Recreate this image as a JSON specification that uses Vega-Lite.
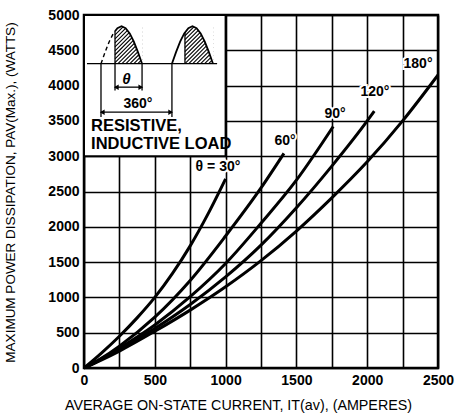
{
  "$schema": "https://vega.github.io/schema/vega-lite/v6.json",
  "width": 354,
  "height": 353,
  "autosize": {"type": "none"},
  "padding": {"left": 84, "top": 15, "right": 19, "bottom": 49},
  "background": "white",
  "config": {"font": "Liberation Sans", "view": {"stroke": "black", "strokeWidth": 2.5}},
  "datasets": {
    "curves": [
      {"angle": "30", "x": 0, "y": 0}, {"angle": "30", "x": 125, "y": 215}, {"angle": "30", "x": 250, "y": 450}, {"angle": "30", "x": 375, "y": 710}, {"angle": "30", "x": 500, "y": 1000}, {"angle": "30", "x": 625, "y": 1340}, {"angle": "30", "x": 750, "y": 1730}, {"angle": "30", "x": 875, "y": 2180}, {"angle": "30", "x": 1000, "y": 2680},
      {"angle": "60", "x": 0, "y": 0}, {"angle": "60", "x": 125, "y": 140}, {"angle": "60", "x": 250, "y": 310}, {"angle": "60", "x": 500, "y": 720}, {"angle": "60", "x": 750, "y": 1240}, {"angle": "60", "x": 1000, "y": 1870}, {"angle": "60", "x": 1250, "y": 2550}, {"angle": "60", "x": 1412, "y": 3040},
      {"angle": "90", "x": 0, "y": 0}, {"angle": "90", "x": 125, "y": 130}, {"angle": "90", "x": 250, "y": 280}, {"angle": "90", "x": 500, "y": 610}, {"angle": "90", "x": 750, "y": 1010}, {"angle": "90", "x": 1000, "y": 1480}, {"angle": "90", "x": 1250, "y": 2050}, {"angle": "90", "x": 1500, "y": 2660}, {"angle": "90", "x": 1760, "y": 3420},
      {"angle": "120", "x": 0, "y": 0}, {"angle": "120", "x": 125, "y": 125}, {"angle": "120", "x": 250, "y": 260}, {"angle": "120", "x": 500, "y": 560}, {"angle": "120", "x": 750, "y": 900}, {"angle": "120", "x": 1000, "y": 1290}, {"angle": "120", "x": 1250, "y": 1740}, {"angle": "120", "x": 1500, "y": 2270}, {"angle": "120", "x": 1750, "y": 2860}, {"angle": "120", "x": 2000, "y": 3500}, {"angle": "120", "x": 2050, "y": 3640},
      {"angle": "180", "x": 0, "y": 0}, {"angle": "180", "x": 125, "y": 115}, {"angle": "180", "x": 250, "y": 240}, {"angle": "180", "x": 500, "y": 520}, {"angle": "180", "x": 750, "y": 820}, {"angle": "180", "x": 1000, "y": 1150}, {"angle": "180", "x": 1250, "y": 1520}, {"angle": "180", "x": 1500, "y": 1940}, {"angle": "180", "x": 1750, "y": 2410}, {"angle": "180", "x": 2000, "y": 2920}, {"angle": "180", "x": 2250, "y": 3500}, {"angle": "180", "x": 2500, "y": 4150}
    ],
    "curveLabels": [
      {"label": "θ = 30°", "x": 946, "y": 2845},
      {"label": "60°", "x": 1420, "y": 3220},
      {"label": "90°", "x": 1773, "y": 3600},
      {"label": "120°", "x": 2055, "y": 3910},
      {"label": "180°", "x": 2359, "y": 4300}
    ],
    "hatch": [
      {"x": 219, "y": 4718, "x2": 290, "y2": 4860},
      {"x": 219, "y": 4662, "x2": 318, "y2": 4860},
      {"x": 219, "y": 4605, "x2": 346, "y2": 4860},
      {"x": 219, "y": 4549, "x2": 374, "y2": 4860},
      {"x": 219, "y": 4493, "x2": 402, "y2": 4860},
      {"x": 219, "y": 4437, "x2": 410, "y2": 4821},
      {"x": 219, "y": 4380, "x2": 410, "y2": 4764},
      {"x": 219, "y": 4324, "x2": 410, "y2": 4708},
      {"x": 240, "y": 4310, "x2": 410, "y2": 4652},
      {"x": 268, "y": 4310, "x2": 410, "y2": 4595},
      {"x": 296, "y": 4310, "x2": 410, "y2": 4539},
      {"x": 324, "y": 4310, "x2": 410, "y2": 4483},
      {"x": 352, "y": 4310, "x2": 410, "y2": 4427},
      {"x": 380, "y": 4310, "x2": 410, "y2": 4370},
      {"x": 713, "y": 4706, "x2": 790, "y2": 4860},
      {"x": 713, "y": 4650, "x2": 818, "y2": 4860},
      {"x": 713, "y": 4593, "x2": 846, "y2": 4860},
      {"x": 713, "y": 4537, "x2": 874, "y2": 4860},
      {"x": 713, "y": 4481, "x2": 902, "y2": 4860},
      {"x": 713, "y": 4425, "x2": 911, "y2": 4823},
      {"x": 713, "y": 4368, "x2": 911, "y2": 4766},
      {"x": 713, "y": 4312, "x2": 911, "y2": 4710},
      {"x": 740, "y": 4310, "x2": 911, "y2": 4654},
      {"x": 768, "y": 4310, "x2": 911, "y2": 4597},
      {"x": 796, "y": 4310, "x2": 911, "y2": 4541},
      {"x": 824, "y": 4310, "x2": 911, "y2": 4485},
      {"x": 852, "y": 4310, "x2": 911, "y2": 4429},
      {"x": 880, "y": 4310, "x2": 911, "y2": 4372}
    ],
    "cover": [
      {"hump": "a", "x": 219, "y": 4770, "y2": 4900}, {"hump": "a", "x": 236, "y": 4814, "y2": 4900}, {"hump": "a", "x": 265, "y": 4840, "y2": 4900}, {"hump": "a", "x": 294, "y": 4814, "y2": 4900}, {"hump": "a", "x": 323, "y": 4739, "y2": 4900}, {"hump": "a", "x": 352, "y": 4622, "y2": 4900}, {"hump": "a", "x": 381, "y": 4474, "y2": 4900}, {"hump": "a", "x": 410, "y": 4310, "y2": 4900},
      {"hump": "b", "x": 713, "y": 4752, "y2": 4900}, {"hump": "b", "x": 737, "y": 4814, "y2": 4900}, {"hump": "b", "x": 766, "y": 4840, "y2": 4900}, {"hump": "b", "x": 795, "y": 4814, "y2": 4900}, {"hump": "b", "x": 824, "y": 4739, "y2": 4900}, {"hump": "b", "x": 853, "y": 4622, "y2": 4900}, {"hump": "b", "x": 882, "y": 4474, "y2": 4900}, {"hump": "b", "x": 911, "y": 4310, "y2": 4900}
    ],
    "humpSolid": [
      {"seg": "a", "x": 219, "y": 4770}, {"seg": "a", "x": 236, "y": 4814}, {"seg": "a", "x": 265, "y": 4840}, {"seg": "a", "x": 294, "y": 4814}, {"seg": "a", "x": 323, "y": 4739}, {"seg": "a", "x": 352, "y": 4622}, {"seg": "a", "x": 381, "y": 4474}, {"seg": "a", "x": 410, "y": 4310},
      {"seg": "b", "x": 621, "y": 4310}, {"seg": "b", "x": 650, "y": 4474}, {"seg": "b", "x": 679, "y": 4622}, {"seg": "b", "x": 708, "y": 4739}, {"seg": "b", "x": 737, "y": 4814}, {"seg": "b", "x": 766, "y": 4840}, {"seg": "b", "x": 795, "y": 4814}, {"seg": "b", "x": 824, "y": 4739}, {"seg": "b", "x": 853, "y": 4622}, {"seg": "b", "x": 882, "y": 4474}, {"seg": "b", "x": 911, "y": 4310}
    ],
    "humpDashed": [
      {"x": 120, "y": 4310}, {"x": 149, "y": 4474}, {"x": 178, "y": 4622}, {"x": 207, "y": 4739}, {"x": 219, "y": 4770}
    ],
    "rules": [
      {"x": 21, "y": 4310, "x2": 940, "y2": 4310},
      {"x": 120, "y": 4310, "x2": 120, "y2": 3556},
      {"x": 219, "y": 4770, "x2": 219, "y2": 3930},
      {"x": 410, "y": 4310, "x2": 410, "y2": 3930},
      {"x": 621, "y": 4310, "x2": 621, "y2": 3556},
      {"x": 713, "y": 4752, "x2": 713, "y2": 4310},
      {"x": 219, "y": 3978, "x2": 410, "y2": 3978},
      {"x": 120, "y": 3623, "x2": 621, "y2": 3623}
    ],
    "arrows": [
      {"x": 228, "y": 3978, "shape": "triangle-left"},
      {"x": 401, "y": 3978, "shape": "triangle-right"},
      {"x": 129, "y": 3623, "shape": "triangle-left"},
      {"x": 612, "y": 3623, "shape": "triangle-right"}
    ],
    "insetText": [
      {"label": "360°", "x": 381, "y": 3741, "size": 14},
      {"label": "RESISTIVE,", "x": 50, "y": 3428, "size": 16},
      {"label": "INDUCTIVE LOAD", "x": 50, "y": 3172, "size": 16}
    ]
  },
  "encoding": {
    "x": {
      "field": "x", "type": "quantitative",
      "scale": {"domain": [0, 2500], "nice": false, "zero": false},
      "axis": {
        "title": "AVERAGE ON-STATE CURRENT, IT(av), (AMPERES)",
        "values": [0, 250, 500, 750, 1000, 1250, 1500, 1750, 2000, 2250, 2500],
        "format": "d",
        "labelExpr": "datum.value % 500 === 0 ? datum.label : ''",
        "grid": true, "gridColor": "black", "gridWidth": 1.6, "gridOpacity": 1,
        "ticks": false, "domain": false,
        "labelFont": "Liberation Sans", "labelFontSize": 14, "labelFontWeight": "bold", "labelColor": "black",
        "labelPadding": 5, "labelFlush": false, "labelOverlap": false,
        "titleFont": "Liberation Sans", "titleFontSize": 14.3, "titleFontWeight": "normal", "titleColor": "black",
        "titleX": 154, "titleY": 37, "titleBaseline": "middle", "titleAlign": "center"
      }
    },
    "y": {
      "field": "y", "type": "quantitative",
      "scale": {"domain": [0, 5000], "nice": false, "zero": false},
      "axis": {
        "title": "MAXIMUM POWER DISSIPATION, PAV(Max.), (WATTS)",
        "values": [0, 500, 1000, 1500, 2000, 2500, 3000, 3500, 4000, 4500, 5000],
        "format": "d",
        "grid": true, "gridColor": "black", "gridWidth": 1.6, "gridOpacity": 1,
        "ticks": false, "domain": false,
        "labelFont": "Liberation Sans", "labelFontSize": 14, "labelFontWeight": "bold", "labelColor": "black",
        "labelPadding": 5, "labelFlush": false, "labelOverlap": false,
        "titleFont": "Liberation Sans", "titleFontSize": 13.5, "titleFontWeight": "normal", "titleColor": "black",
        "titleX": -74, "titleY": 177, "titleBaseline": "middle"
      }
    }
  },
  "layer": [
    {
      "data": {"values": [{"x": 0, "x2": 1000, "y": 3000, "y2": 5000}]},
      "mark": {"type": "rect", "fill": "white", "stroke": "black", "strokeWidth": 2},
      "encoding": {"x2": {"field": "x2"}, "y2": {"field": "y2"}}
    },
    {
      "data": {"name": "hatch"},
      "mark": {"type": "rule", "color": "black", "strokeWidth": 1.1},
      "encoding": {"x2": {"field": "x2"}, "y2": {"field": "y2"}}
    },
    {
      "data": {"name": "cover"},
      "mark": {"type": "area", "fill": "white", "opacity": 1},
      "encoding": {"y2": {"field": "y2"}, "detail": {"field": "hump"}}
    },
    {
      "data": {"name": "humpSolid"},
      "mark": {"type": "line", "color": "black", "strokeWidth": 1.8},
      "encoding": {"detail": {"field": "seg"}}
    },
    {
      "data": {"name": "humpDashed"},
      "mark": {"type": "line", "color": "black", "strokeWidth": 1.4, "strokeDash": [4, 3]},
      "encoding": {}
    },
    {
      "data": {"name": "rules"},
      "mark": {"type": "rule", "color": "black", "strokeWidth": 1.3},
      "encoding": {"x2": {"field": "x2"}, "y2": {"field": "y2"}}
    },
    {
      "data": {"name": "arrows"},
      "mark": {"type": "point", "filled": true, "color": "black", "size": 30, "opacity": 1},
      "encoding": {"shape": {"field": "shape", "type": "nominal", "scale": null}}
    },
    {
      "data": {"values": [{"label": "θ", "x": 300, "y": 4097}]},
      "mark": {"type": "text", "fontSize": 15, "fontStyle": "italic", "fontWeight": "bold", "color": "black", "align": "center", "baseline": "middle"},
      "encoding": {"text": {"field": "label"}}
    },
    {
      "data": {"name": "insetText"},
      "transform": [{"filter": "datum.size == 14"}],
      "mark": {"type": "text", "fontSize": 14, "fontWeight": "bold", "color": "black", "align": "center", "baseline": "middle"},
      "encoding": {"text": {"field": "label"}}
    },
    {
      "data": {"name": "insetText"},
      "transform": [{"filter": "datum.size == 16"}],
      "mark": {"type": "text", "fontSize": 16.5, "fontWeight": "bold", "color": "black", "align": "left", "baseline": "middle"},
      "encoding": {"text": {"field": "label"}}
    },
    {
      "data": {"name": "curves"},
      "mark": {"type": "line", "color": "black", "strokeWidth": 3, "interpolate": "monotone"},
      "encoding": {"detail": {"field": "angle"}}
    },
    {
      "data": {"name": "curveLabels"},
      "mark": {"type": "text", "fontSize": 14, "fontWeight": "bold", "stroke": "white", "strokeWidth": 4, "fill": "white", "align": "center", "baseline": "middle"},
      "encoding": {"text": {"field": "label"}}
    },
    {
      "data": {"name": "curveLabels"},
      "mark": {"type": "text", "fontSize": 14, "fontWeight": "bold", "color": "black", "align": "center", "baseline": "middle"},
      "encoding": {"text": {"field": "label"}}
    }
  ]
}
